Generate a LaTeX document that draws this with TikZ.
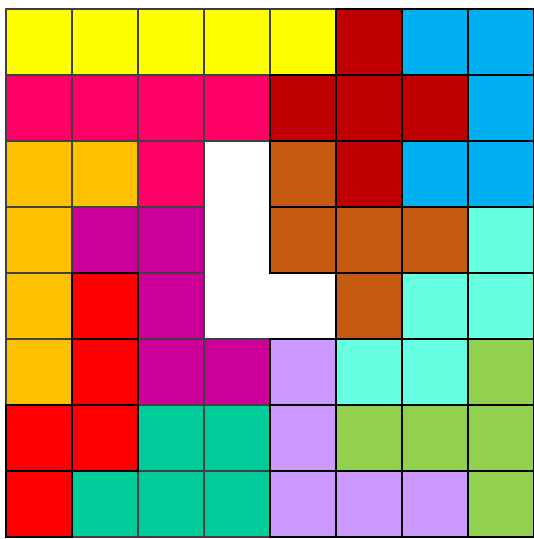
\documentclass[tikz,border=0pt]{standalone}
\usepackage{xcolor}
\usetikzlibrary{positioning}
\definecolor{tileyellow}{RGB}{255,255,0}
\definecolor{tilepink}{RGB}{255,0,102}
\definecolor{tiledarkred}{RGB}{192,0,0}
\definecolor{tileblue}{RGB}{0,176,240}
\definecolor{tileorange}{RGB}{255,192,0}
\definecolor{tilemagenta}{RGB}{204,0,153}
\definecolor{tilebrown}{RGB}{197,90,17}
\definecolor{tilecyan}{RGB}{102,255,224}
\definecolor{tilered}{RGB}{255,0,0}
\definecolor{tilelavender}{RGB}{204,153,255}
\definecolor{tileteal}{RGB}{0,204,153}
\definecolor{tilegreen}{RGB}{146,208,80}
\definecolor{edgegray}{RGB}{64,64,64}
\tikzset{
  tile/.style={fill=#1, draw=edgegray, line width=0.9pt},
  tileblack/.style={fill=#1, draw=black, line width=0.9pt},
}

\begin{document}
\begin{tikzpicture}[x=1cm, y=-1cm]
  \useasboundingbox (-0.091,-0.136) rectangle (7.985,8.03);
  % Pieces with gray edges
  \foreach \c/\r in {0/0,1/0,2/0,3/0,4/0}{
    \draw[tile=tileyellow] (\c,\r) rectangle +(1,1);
  }
  \foreach \c/\r in {0/1,1/1,2/1,3/1,2/2}{
    \draw[tile=tilepink] (\c,\r) rectangle +(1,1);
  }
  \foreach \c/\r in {0/2,1/2,0/3,0/4,0/5}{
    \draw[tile=tileorange] (\c,\r) rectangle +(1,1);
  }
  \foreach \c/\r in {2/6,3/6,1/7,2/7,3/7}{
    \draw[tile=tileteal] (\c,\r) rectangle +(1,1);
  }
  \foreach \c/\r in {1/3,2/3,2/4,2/5,3/5}{
    \draw[tile=tilemagenta] (\c,\r) rectangle +(1,1);
  }
  % Pieces with black edges
  \foreach \c/\r in {5/0,4/1,5/1,6/1,5/2}{
    \draw[tileblack=tiledarkred] (\c,\r) rectangle +(1,1);
  }
  \foreach \c/\r in {6/0,7/0,7/1,6/2,7/2}{
    \draw[tileblack=tileblue] (\c,\r) rectangle +(1,1);
  }
  \foreach \c/\r in {4/2,4/3,5/3,6/3,5/4}{
    \draw[tileblack=tilebrown] (\c,\r) rectangle +(1,1);
  }
  \foreach \c/\r in {7/3,6/4,7/4,5/5,6/5}{
    \draw[tileblack=tilecyan] (\c,\r) rectangle +(1,1);
  }
  \foreach \c/\r in {1/4,1/5,0/6,1/6,0/7}{
    \draw[tileblack=tilered] (\c,\r) rectangle +(1,1);
  }
  \foreach \c/\r in {4/5,4/6,4/7,5/7,6/7}{
    \draw[tileblack=tilelavender] (\c,\r) rectangle +(1,1);
  }
  \foreach \c/\r in {7/5,5/6,6/6,7/6,7/7}{
    \draw[tileblack=tilegreen] (\c,\r) rectangle +(1,1);
  }
\end{tikzpicture}
\end{document}
